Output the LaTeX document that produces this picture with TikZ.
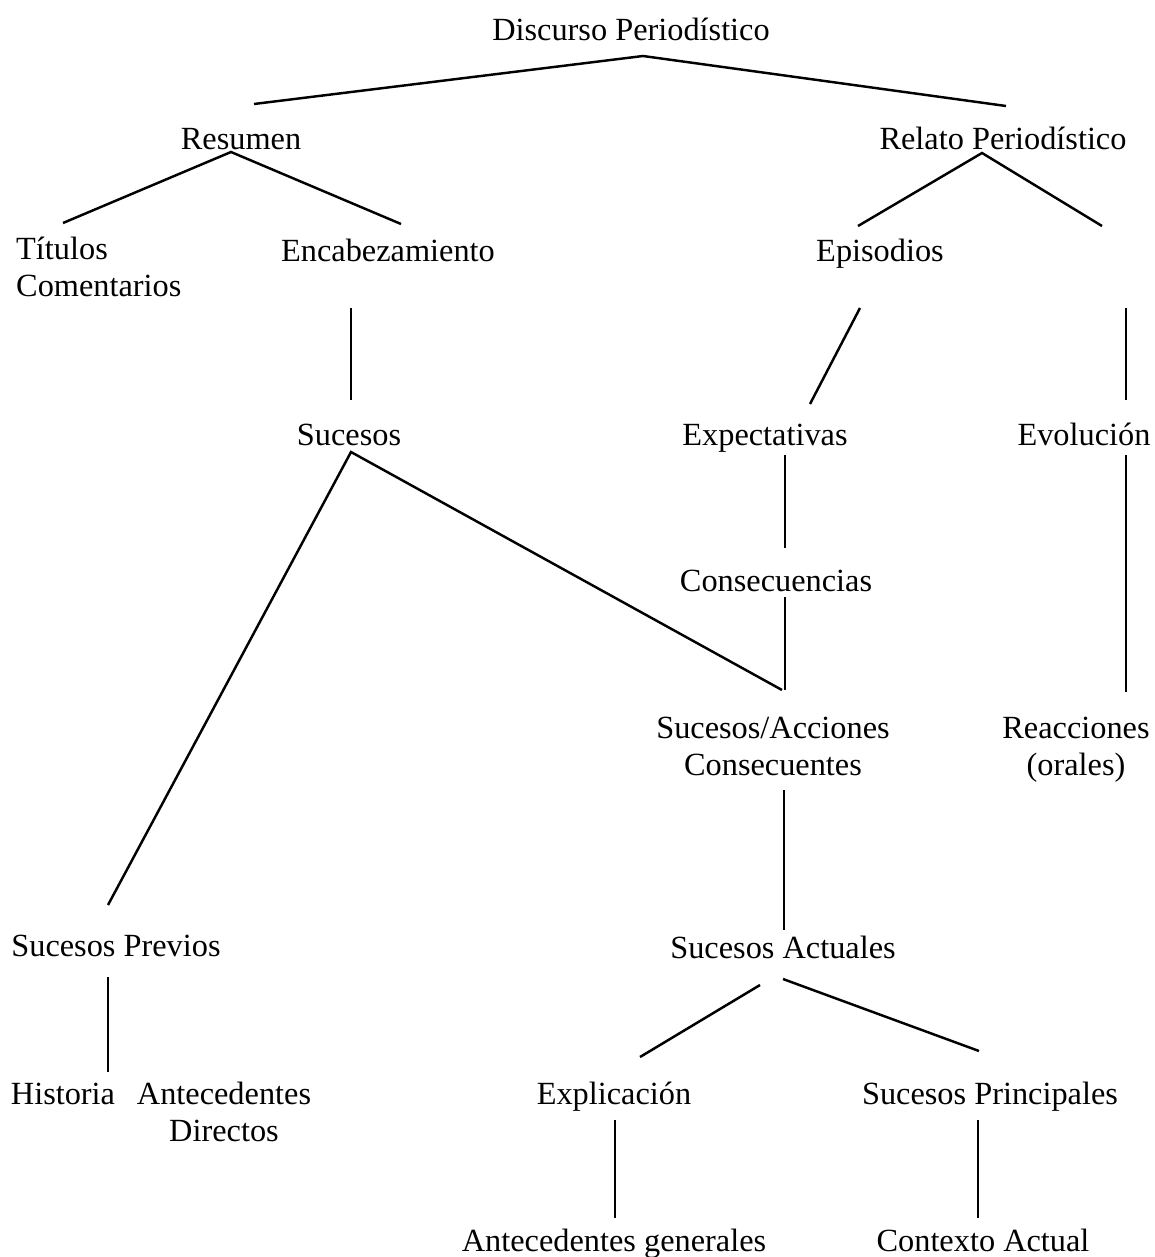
\documentclass[tikz,border=0pt]{standalone}
\usepackage{fontspec}
\setmainfont{Liberation Serif}
\begin{document}
\begin{tikzpicture}[x=0.02cm,y=-0.02cm,line width=1.4pt,
            every node/.style={inner sep=0pt,anchor=base,font=\fontsize{18.4}{21}\selectfont}] %Esquema del discurso periodístico
            \useasboundingbox (0,0) rectangle (1155,1257);

            \coordinate (A1) at (254,104);
            \coordinate (A2) at (643,56);
            \coordinate (A3) at (1006,106);

            \coordinate (B1) at (63,223);
            \coordinate (B2) at (231,152);
            \coordinate (B3) at (401,224);

            \coordinate (C1) at (858,226);
            \coordinate (C2) at (982,153);
            \coordinate (C3) at (1102,226);

            \coordinate (D1) at (351,308);
            \coordinate (D2) at (351,400);
            \coordinate (E1) at (860,308);
            \coordinate (E2) at (810,404);
            \coordinate (F1) at (1126,308);
            \coordinate (F2) at (1126,400);

            \coordinate (G1) at (108,905);
            \coordinate (G2) at (351,452);
            \coordinate (G3) at (782,690);

            \coordinate (H1) at (785,455);
            \coordinate (H2) at (785,548);
            \coordinate (H3) at (785,597);
            \coordinate (H4) at (785,690);
            \coordinate (I1) at (1126,455);
            \coordinate (I2) at (1126,692);

            \coordinate (J1) at (784,790);
            \coordinate (J2) at (784,930);
            \coordinate (K1) at (108,977);
            \coordinate (K2) at (108,1072);

            \coordinate (L1) at (640,1057);
            \coordinate (L2) at (760,985);
            \coordinate (L3) at (783,979);
            \coordinate (L4) at (979,1051);

            \coordinate (M1) at (615,1120);
            \coordinate (M2) at (615,1218);
            \coordinate (N1) at (978,1120);
            \coordinate (N2) at (978,1218);

            \node (dp) at (631,41) {Discurso Periodístico};
            \node (res) at (241,150) {Resumen};
            \node (rel) at (1003,150) {Relato Periodístico};
            \node[anchor=base west,align=left] (tit) at (15,296) {Títulos\\Comentarios};
            \node (enc) at (388,261) {Encabezamiento};
            \node (epi) at (880,261) {Episodios};
            \node (suc) at (349,445) {Sucesos};
            \node (exp) at (765,445) {Expectativas};
            \node (evo) at (1084,445) {Evolución};
            \node (con) at (776,591) {Consecuencias};
            \node[align=center] (sac) at (773,775) {Sucesos/Acciones\\Consecuentes};
            \node[align=center] (rea) at (1076,775) {Reacciones\\(orales)};
            \node (spr) at (116,956) {Sucesos Previos};
            \node (sac2) at (783,958) {Sucesos Actuales};
            \node (his) at (63,1104) {Historia};
            \node[align=center] (ant) at (224,1141) {Antecedentes\\Directos};
            \node (expl) at (614,1104) {Explicación};
            \node (spri) at (990,1104) {Sucesos Principales};
            \node (ang) at (614,1251) {Antecedentes generales};
            \node (cac) at (983,1251) {Contexto Actual};

            \draw (A1) -- (A2) -- (A3);
            \draw (B1) -- (B2) -- (B3);
            \draw (C1) -- (C2) -- (C3);

            \draw (D1) -- (D2);
            \draw (E1) -- (E2);
            \draw (F1) -- (F2);

            \draw (G1) -- (G2) -- (G3);
            \draw (H1) -- (H2);
            \draw (H3) -- (H4);
            \draw (I1) -- (I2);

            \draw (J1) -- (J2);
            \draw (K1) -- (K2);
            \draw (L1) -- (L2);
            \draw (L3) -- (L4);
            \draw (M1) -- (M2);
            \draw (N1) -- (N2);
        \end{tikzpicture}
\end{document}
